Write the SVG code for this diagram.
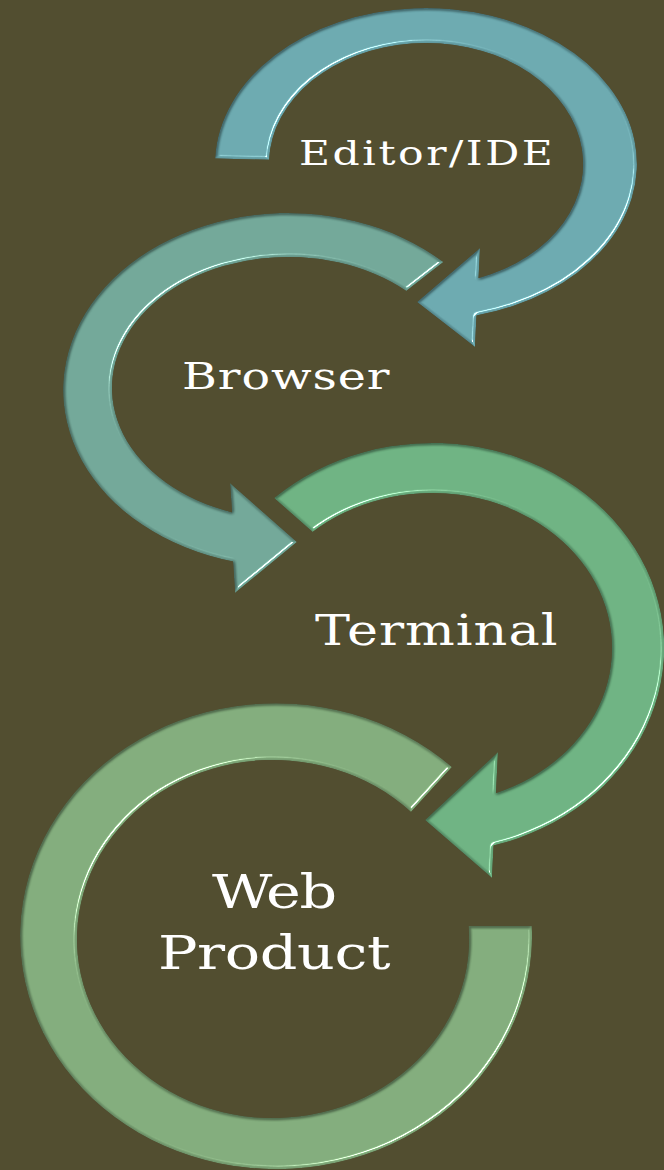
<svg xmlns="http://www.w3.org/2000/svg" width="664" height="1170" viewBox="0 0 664 1170">
  <defs>
    <filter id="bevel" x="-5%" y="-5%" width="110%" height="110%" color-interpolation-filters="sRGB">
      <feGaussianBlur in="SourceAlpha" stdDeviation="1.8" result="blur"/>
      <feDiffuseLighting in="blur" surfaceScale="5" diffuseConstant="1" lighting-color="#ffffff" result="diff">
        <feDistantLight azimuth="45" elevation="60"/>
      </feDiffuseLighting>
      <feComposite in="SourceGraphic" in2="diff" operator="arithmetic" k1="0.4" k2="0.654" k3="0" k4="0" result="shaded"/>
      <feSpecularLighting in="blur" surfaceScale="5" specularConstant="1.3" specularExponent="32" lighting-color="#ffffff" result="spec">
        <feDistantLight azimuth="45" elevation="32"/>
      </feSpecularLighting>
      <feComposite in="spec" in2="SourceAlpha" operator="in" result="specIn"/>
      <feComposite in="shaded" in2="specIn" operator="arithmetic" k1="0" k2="1" k3="0.85" k4="0" result="lit"/>
      <feComposite in="lit" in2="SourceAlpha" operator="in"/>
    </filter>
  </defs>
  <style>
    .arrow { filter: url(#bevel); }
    .label { font-family: "DejaVu Serif", "Liberation Serif", serif; fill: #ffffff; }
  </style>
  <rect x="0" y="0" width="664" height="1170" fill="#524e30"/>

  <g id="node-editor">
    <path class="arrow" fill="#6aa7ad" d="M 215.1,158.6 A 211 156 0 1 1 476.5,315.5 L 475,347 L 417,302 L 480,248 L 478.6,278 A 157 121 0 1 0 269.1,159.8 Z"/>
    <text class="label" transform="translate(299,165) scale(1.25,1)" x="0" y="0" font-size="34" textLength="203" lengthAdjust="spacing">Editor/IDE</text>
  </g>

  <g id="node-browser">
    <path class="arrow" fill="#70a596" d="M 443.5,262 A 225 177 0 1 0 233,561.6 L 235,593 L 297,542 L 230,483 L 232,512.2 A 176 131 0 1 1 406.3,291 Z"/>
    <text class="label" transform="translate(182,389) scale(1.25,1)" x="0" y="0" font-size="38" textLength="166" lengthAdjust="spacing">Browser</text>
  </g>

  <g id="node-terminal">
    <path class="arrow" fill="#6cb080" d="M 274,498 A 232 205 0 1 1 493.6,845.6 L 492,878 L 425,820 L 498,752 L 496,792.9 A 180 155 0 1 0 312.6,532 Z"/>
    <text class="label" transform="translate(315,645) scale(1.25,1)" x="0" y="0" font-size="42" textLength="194" lengthAdjust="spacing">Terminal</text>
  </g>

  <g id="node-webproduct">
    <path class="arrow" fill="#80aa7a" d="M 531.8,926 A 256 233 0 1 1 452,767 L 411,811.9 A 196 179 0 1 0 468.5,926 Z"/>
    <text class="label" transform="translate(212,908) scale(1.25,1)" x="0" y="0" font-size="47" textLength="100" lengthAdjust="spacing">Web</text>
    <text class="label" transform="translate(158,969) scale(1.25,1)" x="0" y="0" font-size="47" textLength="186" lengthAdjust="spacing">Product</text>
  </g>

  <g id="connectors"/>
</svg>
